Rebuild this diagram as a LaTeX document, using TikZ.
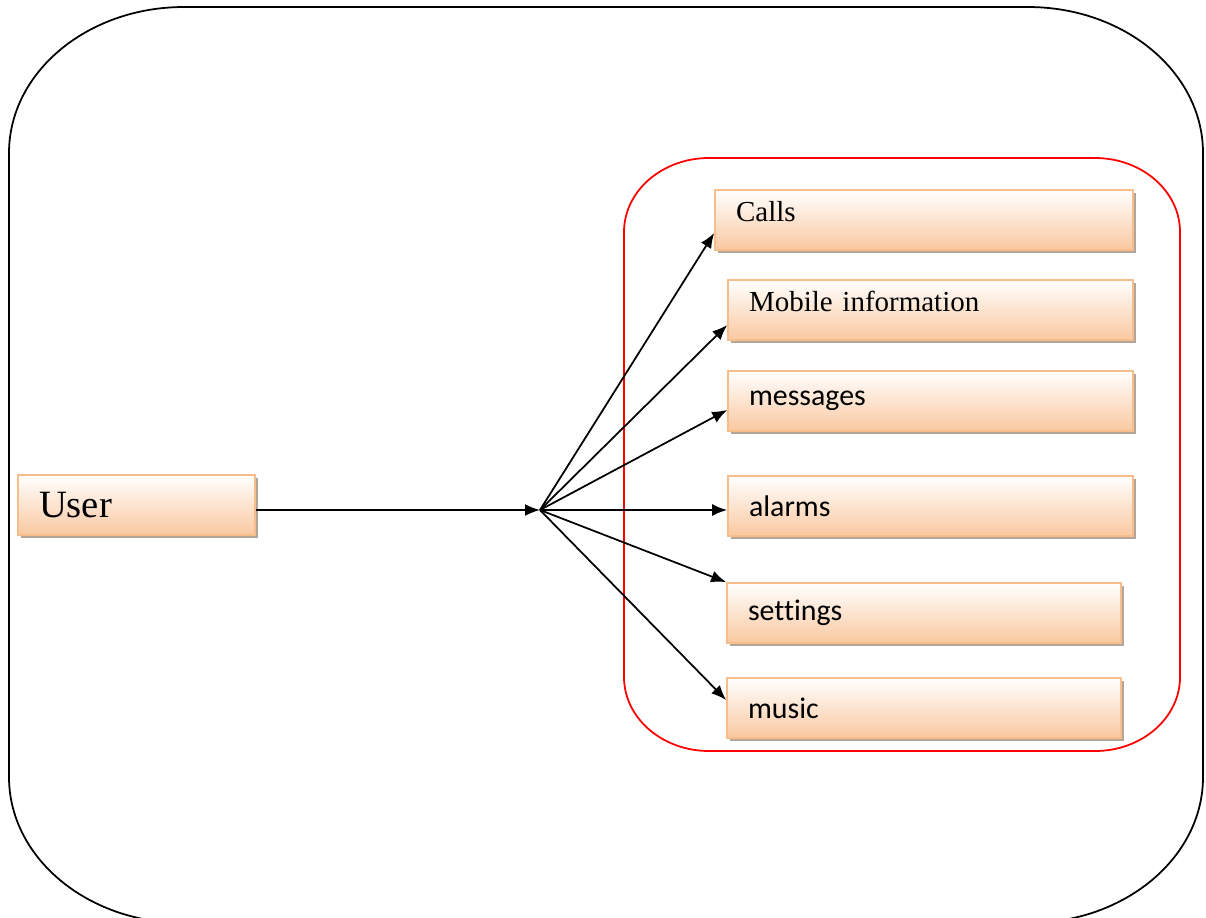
\documentclass[tikz,border=0pt]{standalone}
\usepackage{fontspec}
\setmainfont{Liberation Serif}
\newfontfamily\calibri[Ligatures=NoCommon]{Carlito}
\usetikzlibrary{arrows.meta, shadows}

\definecolor{peach}{RGB}{250,200,160}
\definecolor{peachline}{RGB}{247,190,140}

\begin{document}
\begin{tikzpicture}[x=0.02cm, y=-0.02cm]
    % Define styles for boxes and arrows
    \tikzstyle{itembox} = [rectangle, draw=peachline, line width=1pt, top color=white, bottom color=peach, minimum height=1.2cm, inner xsep=0.42cm, align=left, drop shadow={shadow xshift=0.06cm, shadow yshift=-0.06cm, fill=black!55!brown, opacity=0.45}]
    \tikzstyle{serifbox} = [itembox, font=\fontsize{16.5}{20}\selectfont, text depth=0.35cm]
    \tikzstyle{sansbox} = [itembox, font=\calibri\fontsize{17}{20}\selectfont]
    \tikzstyle{arrow} = [line width=1pt, -{Latex[length=0.3cm, width=0.24cm]}]

    \useasboundingbox (0,0) rectangle (1206,917);

    % Outer frame
    \draw[line width=1pt] (9,777) -- (9,153) arc[start angle=180, end angle=270, x radius=175, y radius=146] -- (1028,7) arc[start angle=270, end angle=360, x radius=175, y radius=146] -- (1203,777) arc[start angle=0, end angle=90, x radius=175, y radius=146] -- (184,923) arc[start angle=90, end angle=180, x radius=175, y radius=146] -- cycle;

    % Red frame round the functions
    \draw[red, line width=1pt] (624,677) -- (624,232) arc[start angle=180, end angle=270, x radius=85, y radius=74] -- (1095,158) arc[start angle=270, end angle=360, x radius=85, y radius=74] -- (1180,677) arc[start angle=0, end angle=90, x radius=85, y radius=74] -- (709,751) arc[start angle=90, end angle=180, x radius=85, y radius=74] -- cycle;

    % Nodes
    \node (user) [itembox, font=\fontsize{22}{26}\selectfont, text width=3.9cm] at (136.5,505) {User};
    \node (calls) [serifbox, text width=7.52cm] at (924,220) {Calls};
    \node (mobile) [serifbox, text width=7.26cm] at (930.5,310) {Mobile information};
    \node (messages) [sansbox, text width=7.26cm] at (930.5,401) {messages};
    \node (alarms) [sansbox, text width=7.26cm] at (930.5,506) {alarms};
    \node (settings) [sansbox, text width=7.04cm] at (924,613) {settings};
    \node (music) [sansbox, text width=7.04cm] at (924,708) {music};
    \coordinate (hub) at (540,510);

    % Arrows
    \draw [arrow] (user.east |- hub) -- (hub);
    \draw [arrow] (hub) -- ([yshift=-0.26cm]calls.west);
    \draw [arrow] (hub) -- ([yshift=-0.3cm]mobile.west);
    \draw [arrow] (hub) -- ([yshift=-0.18cm]messages.west);
    \draw [arrow] (hub) -- (hub -| alarms.west);
    \draw [arrow] (hub) -- (settings.north west);
    \draw [arrow] (hub) -- ([yshift=0.16cm]music.west);

\end{tikzpicture}
\end{document}
